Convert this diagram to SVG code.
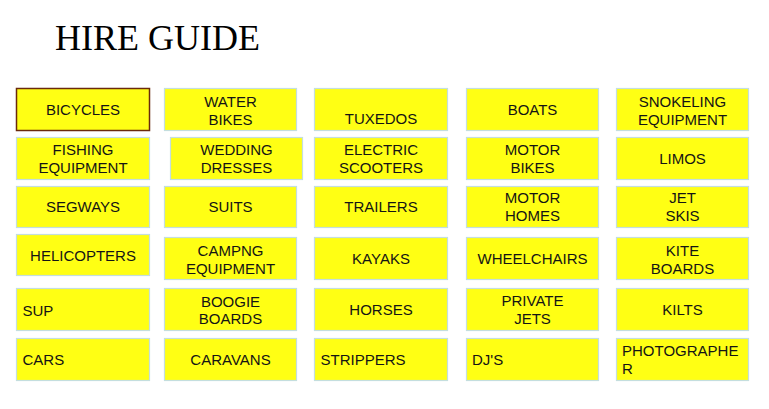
<svg xmlns="http://www.w3.org/2000/svg" width="769" height="409" viewBox="0 0 769 409">
<style>
.b{fill:#ffff14;stroke:#c4dede;stroke-width:1.2}
.sel{fill:#ffff14;stroke:#6a2a0c;stroke-width:1.5}
text{font-family:"Liberation Sans",Arial,sans-serif;font-size:15px;fill:#141414}
.c{text-anchor:middle}
.title{font-family:"Liberation Serif","Times New Roman",serif;font-size:36px;fill:#000}
</style>
<rect width="769" height="409" fill="#fff"/>
<text class="title" x="55" y="50">HIRE GUIDE</text>
<g id="connectors"></g>
<g id="bicycles"><rect class="sel" x="16.5" y="88.5" width="133" height="42"/><text class="c" x="83" y="115">BICYCLES</text></g>
<g id="water-bikes"><rect class="b" x="164.5" y="88.5" width="132" height="42"/><text class="c" x="230.5" y="107">WATER</text><text class="c" x="230.5" y="125">BIKES</text></g>
<g id="tuxedos"><rect class="b" x="314.5" y="88.5" width="133" height="42"/><text class="c" x="381" y="124">TUXEDOS</text></g>
<g id="boats"><rect class="b" x="466.5" y="88.5" width="132" height="42"/><text class="c" x="532.5" y="115">BOATS</text></g>
<g id="snokeling"><rect class="b" x="616.5" y="88.5" width="132" height="42"/><text class="c" x="682.5" y="107">SNOKELING</text><text class="c" x="682.5" y="124.5">EQUIPMENT</text></g>

<g id="fishing"><rect class="b" x="16.5" y="137.5" width="133" height="42"/><text class="c" x="83" y="155">FISHING</text><text class="c" x="83" y="173">EQUIPMENT</text></g>
<g id="wedding"><rect class="b" x="170.5" y="137.5" width="132" height="42"/><text class="c" x="236.5" y="155">WEDDING</text><text class="c" x="236.5" y="173">DRESSES</text></g>
<g id="electric"><rect class="b" x="314.5" y="137.5" width="133" height="42"/><text class="c" x="381" y="155">ELECTRIC</text><text class="c" x="381" y="173">SCOOTERS</text></g>
<g id="motor-bikes"><rect class="b" x="466.5" y="137.5" width="132" height="42"/><text class="c" x="532.5" y="155">MOTOR</text><text class="c" x="532.5" y="173">BIKES</text></g>
<g id="limos"><rect class="b" x="616.5" y="137.5" width="132" height="42"/><text class="c" x="682.5" y="164">LIMOS</text></g>

<g id="segways"><rect class="b" x="16.5" y="186.5" width="133" height="41"/><text class="c" x="83" y="212">SEGWAYS</text></g>
<g id="suits"><rect class="b" x="164.5" y="186.5" width="132" height="41"/><text class="c" x="230.5" y="212">SUITS</text></g>
<g id="trailers"><rect class="b" x="314.5" y="186.5" width="133" height="41"/><text class="c" x="381" y="212">TRAILERS</text></g>
<g id="motor-homes"><rect class="b" x="466.5" y="186.5" width="132" height="41"/><text class="c" x="532.5" y="203">MOTOR</text><text class="c" x="532.5" y="221">HOMES</text></g>
<g id="jet-skis"><rect class="b" x="616.5" y="186.5" width="132" height="41"/><text class="c" x="682.5" y="203">JET</text><text class="c" x="682.5" y="221">SKIS</text></g>

<g id="helicopters"><rect class="b" x="16.5" y="234.5" width="133" height="41"/><text class="c" x="83" y="260.5">HELICOPTERS</text></g>
<g id="camping"><rect class="b" x="164.5" y="237.5" width="132" height="42"/><text class="c" x="230.5" y="256">CAMPNG</text><text class="c" x="230.5" y="273.5">EQUIPMENT</text></g>
<g id="kayaks"><rect class="b" x="314.5" y="237.5" width="133" height="42"/><text class="c" x="381" y="264">KAYAKS</text></g>
<g id="wheelchairs"><rect class="b" x="466.5" y="237.5" width="132" height="42"/><text class="c" x="532.5" y="264">WHEELCHAIRS</text></g>
<g id="kite-boards"><rect class="b" x="616.5" y="237.5" width="132" height="42"/><text class="c" x="682.5" y="256">KITE</text><text class="c" x="682.5" y="273.5">BOARDS</text></g>

<g id="sup"><rect class="b" x="16.5" y="288.5" width="133" height="42"/><text x="22.5" y="315.5">SUP</text></g>
<g id="boogie"><rect class="b" x="164.5" y="288.5" width="132" height="42"/><text class="c" x="230.5" y="306.5">BOOGIE</text><text class="c" x="230.5" y="324">BOARDS</text></g>
<g id="horses"><rect class="b" x="314.5" y="288.5" width="133" height="42"/><text class="c" x="381" y="315">HORSES</text></g>
<g id="private-jets"><rect class="b" x="466.5" y="288.5" width="132" height="42"/><text class="c" x="532.5" y="306">PRIVATE</text><text class="c" x="532.5" y="324">JETS</text></g>
<g id="kilts"><rect class="b" x="616.5" y="288.5" width="132" height="42"/><text class="c" x="682.5" y="315">KILTS</text></g>

<g id="cars"><rect class="b" x="16.5" y="338.5" width="133" height="42"/><text x="22.5" y="365">CARS</text></g>
<g id="caravans"><rect class="b" x="164.5" y="338.5" width="132" height="42"/><text class="c" x="230.5" y="365">CARAVANS</text></g>
<g id="strippers"><rect class="b" x="314.5" y="338.5" width="133" height="42"/><text x="320.5" y="365">STRIPPERS</text></g>
<g id="djs"><rect class="b" x="466.5" y="338.5" width="132" height="42"/><text x="472" y="365">DJ'S</text></g>
<g id="photographer"><rect class="b" x="616.5" y="338.5" width="132" height="42"/><text x="622" y="356">PHOTOGRAPHE</text><text x="622" y="374">R</text></g>
</svg>
